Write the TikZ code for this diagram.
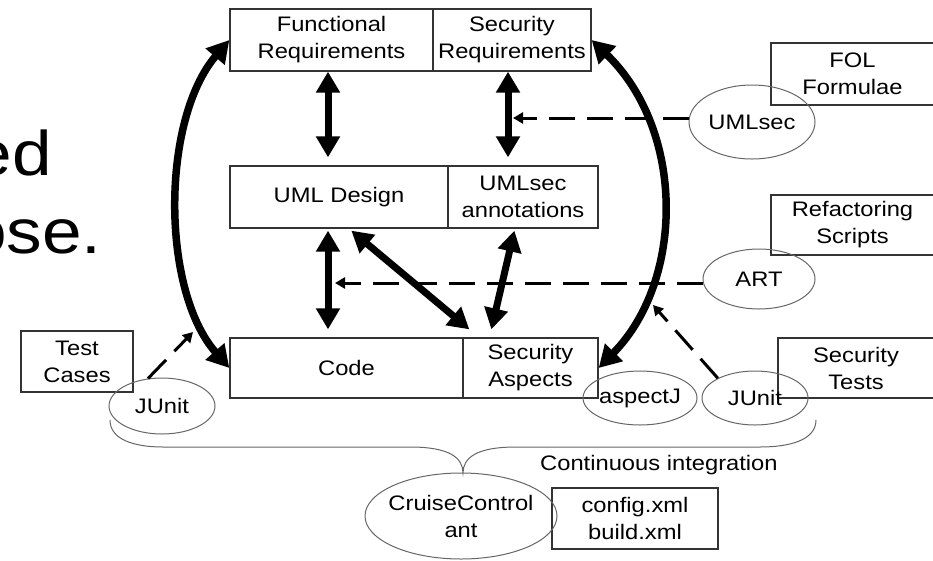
\documentclass[tikz,border=0pt]{standalone}
\usepackage{fontspec}
\setmainfont{Liberation Sans}[FakeStretch=1.13]
\usetikzlibrary{arrows.meta,shapes.geometric}
\begin{document}
\begin{tikzpicture}[x=1pt,y=-1pt,
  txt/.style={font=\fontsize{21}{27}\selectfont, inner sep=0pt, align=center},
  box/.style={txt, draw=black!80, line width=1.3pt},
  ell/.style={ellipse, draw=black!60, line width=1pt, inner sep=0pt},
  lbl/.style={txt},
  big/.style={line width=7pt, {Triangle[width=23pt,length=21pt]}-{Triangle[width=23pt,length=21pt]}},
  curv/.style={line width=7.5pt, {Triangle[width=24pt,length=22pt]}-{Triangle[width=24pt,length=22pt]}},
  dsh/.style={line width=3pt, dash pattern=on 26pt off 12pt, -{Triangle[width=11pt,length=10pt]}},
  brace/.style={draw=black!60, line width=1pt},
  slide/.style={font=\fontsize{63}{70}\selectfont, inner sep=0pt, anchor=base east}]
\useasboundingbox (0,0) rectangle (933,560);
\clip (0,0) rectangle (933,560);

% slide text fragments
\node[slide] (s1) at (52,175) {ed};
\node[slide] (s2) at (102,253) {ose.};

% main boxes
\node[box, minimum width=203pt, minimum height=62pt] (FR) at (331.5,40) {Functional\\Requirements};
\node[box, minimum width=158pt, minimum height=62pt] (SR) at (512,40) {Security\\Requirements};
\node[box, minimum width=218pt, minimum height=62pt] (UD) at (339,197) {UML Design};
\node[box, minimum width=150pt, minimum height=62pt] (UA) at (523,197) {UMLsec\\annotations};
\node[box, minimum width=233pt, minimum height=60pt] (CD) at (346.5,368) {Code};
\node[box, minimum width=135pt, minimum height=60pt] (SA) at (530.5,368) {Security\\Aspects};

% side boxes
\node[box, minimum width=163pt, minimum height=62pt] (FOL) at (852.5,74) {FOL\\Formulae};
\node[box, minimum width=163pt, minimum height=60pt] (RS) at (852.5,225) {Refactoring\\Scripts};
\node[box, minimum width=156pt, minimum height=60pt] (ST) at (856,368) {Security\\Tests};
\node[box, minimum width=112pt, minimum height=61pt] (TC) at (77,361.5) {Test\\Cases};
\node[box, minimum width=166pt, minimum height=61pt] (CX) at (635,518.5) {config.xml\\build.xml};

% ellipses
\node[ell, minimum width=126pt, minimum height=74pt, label={[lbl]center:UMLsec}] (UM) at (752,122) {};
\node[ell, minimum width=112pt, minimum height=60pt, label={[lbl]center:ART}] (ART) at (759,279) {};
\node[ell, minimum width=106pt, minimum height=54pt, label={[lbl]center:JUnit}] (JR) at (755,398) {};
\node[ell, minimum width=114pt, minimum height=54pt, label={[lbl]center:aspectJ}] (AJ) at (640,398) {};
\node[ell, minimum width=106pt, minimum height=56pt, label={[lbl]center:JUnit}] (JL) at (162,406) {};
\node[ell, minimum width=192pt, minimum height=86pt, label={[lbl]center:CruiseControl\\ant}] (CC) at (461,516) {};

\node[txt, anchor=west] (CI) at (540,465) {Continuous integration};

% thick arrows
\draw[big, shorten >=8pt] (FR.south -| 328,0) -- (UD.north -| 328,0);
\draw[big, shorten >=8pt] (SR.south -| 508,0) -- (UA.north -| 508,0);
\draw[big, shorten <=2pt, shorten >=8pt] (UD.south -| 328,0) -- (CD.north -| 328,0);
\draw[big] ([xshift=122pt,yshift=-2pt]UD.south west) -- ([xshift=7pt,yshift=8pt]SA.north west);
\draw[big] ([xshift=67pt,yshift=-2pt]UA.south west) -- ([xshift=29pt,yshift=8pt]SA.north west);

% big curved arrows
\draw[curv] (CD.west) .. controls (161,290) and (161,120) .. (FR.west);
\draw[curv] (SR.east) .. controls (685,130) and (685,280) .. (SA.east);

% dashed arrows
\coordinate (d1) at (513,118);
\coordinate (d2) at (335,283);
\coordinate (d3) at (653,305);
\coordinate (d4) at (193,332);
\draw[dsh] (UM.west |- d1) -- (d1);
\draw[dsh] (ART.west |- d2) -- (d2);
\draw[dsh] (JR.152) -- (d3);
\draw[dsh] (JL.117) -- (d4);

% brace
\draw[brace] (110,420) .. controls (110,440) and (135,447) .. (163,447) -- (410,447)
  .. controls (450,447) and (463,458) .. (463,473)
  .. controls (463,458) and (476,447) .. (516,447) -- (760,447)
  .. controls (790,447) and (816,440) .. (816,420);
\end{tikzpicture}
\end{document}
